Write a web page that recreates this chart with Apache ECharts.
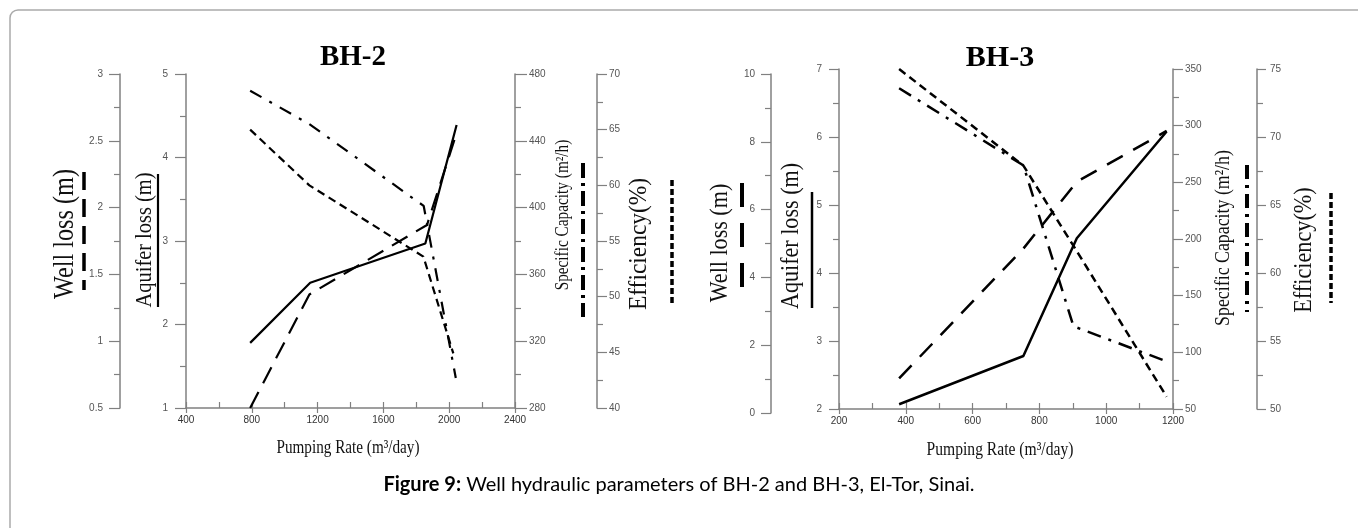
<!DOCTYPE html>
<html>
<head>
<meta charset="utf-8">
<script src="https://cdn.jsdelivr.net/npm/echarts@6/dist/echarts.min.js"></script>
<style>
  html, body { margin: 0; padding: 0; background: #fff; }
  #chart { width: 1358px; height: 528px; }
</style>
</head>
<body>
<div id="chart"></div>
<script>
// BH-2 well tests: pumping rate (m3/day) against each parameter
const bh2AquiferRate = [790, 1155, 1855, 2045];
const bh2AquiferLoss = [1.78, 2.5, 2.97, 4.39];
const bh2WellRate = [790, 1150, 1865, 2035];
const bh2WellLoss = [0.5, 1.35, 1.87, 2.52];
const bh2CapacityRate = [790, 1150, 1845, 2040];
const bh2Capacity = [470, 450, 401, 298];
const bh2EfficiencyRate = [790, 1150, 1843, 2025];
const bh2Efficiency = [65, 60, 53.6, 44.9];

// BH-3 well tests
const bh3AquiferRate = [380, 752, 912, 1181];
const bh3AquiferLoss = [2.07, 2.78, 4.51, 6.08];
const bh3WellRate = [380, 752, 912, 1181];
const bh3WellLoss = [1.02, 4.85, 6.82, 8.32];
const bh3CapacityRate = [380, 752, 902, 1181];
const bh3Capacity = [333, 265, 123, 92];
const bh3EfficiencyRate = [380, 752, 912, 1181];
const bh3Efficiency = [75, 67.9, 61.6, 50.9];

const pairs = (xs, ys) => xs.map((x, i) => [x, ys[i]]);
const plain = v => String(v);

const SERIF = '"Liberation Serif", "DejaVu Serif", serif';
const SANS = '"Liberation Sans", Arial, sans-serif';
const AXIS_GREY = '#808080';

function yAxis(gridIndex, position, offset, min, max, interval, margin, tickLen) {
  return {
    type: 'value', gridIndex, position, offset, min, max, interval,
    axisLine: { show: true, onZero: false, lineStyle: { color: AXIS_GREY, width: 1.5 } },
    axisTick: { show: true, length: tickLen, lineStyle: { color: AXIS_GREY, width: 1.2 } },
    minorTick: { show: true, splitNumber: 2, length: 6, lineStyle: { color: AXIS_GREY, width: 1.2 } },
    axisLabel: { margin, color: '#555', fontSize: 10, fontFamily: SANS, formatter: plain },
    splitLine: { show: false }
  };
}

function xAxis(gridIndex, min, max, interval) {
  return {
    type: 'value', gridIndex, position: 'bottom', min, max, interval,
    axisLine: { show: true, onZero: false, lineStyle: { color: AXIS_GREY, width: 1.5 } },
    axisTick: { show: true, length: 5, lineStyle: { color: AXIS_GREY, width: 1.2 } },
    axisLabel: { margin: 7, color: '#333', fontSize: 10, fontFamily: SANS, formatter: plain },
    splitLine: { show: false }
  };
}

// second axis on the same scale carrying the inward ticks
function innerTicks(gridIndex, min, max, interval) {
  return {
    type: 'value', gridIndex, position: 'bottom', min, max, interval,
    axisLine: { show: false, onZero: false },
    axisTick: { show: true, inside: true, length: 6, lineStyle: { color: AXIS_GREY, width: 1.2 } },
    axisLabel: { show: false },
    splitLine: { show: false }
  };
}

function line(name, xi, yi, data, type, width) {
  return {
    name, type: 'line', xAxisIndex: xi, yAxisIndex: yi, data,
    symbol: 'none', silent: true,
    lineStyle: { color: '#000', width, type, cap: 'butt' }
  };
}

// condensed serif caption text; rotated ones read bottom to top
function serifText(text, x, y, size, squeeze, rotated) {
  return {
    type: 'text', x, y, rotation: rotated ? Math.PI / 2 : 0, scaleX: squeeze,
    style: { text, fontFamily: SERIF, fontSize: size, fill: '#111', textAlign: 'center', textVerticalAlign: 'middle' }
  };
}

function keyLine(x, y1, y2, width, dash) {
  return {
    type: 'line',
    shape: { x1: x, y1, x2: x, y2 },
    style: { stroke: '#000', lineWidth: width, lineDash: dash, lineCap: 'butt' }
  };
}

const option = {
  animation: false,
  backgroundColor: '#fff',
  grid: [
    { left: 186, top: 74, width: 329, height: 334 },
    { left: 839, top: 69, width: 334, height: 340 },
    { left: 839, top: 74, width: 334, height: 339 }
  ],
  xAxis: [
    xAxis(0, 400, 2400, 400),
    innerTicks(0, 400, 2400, 200),
    xAxis(1, 200, 1200, 200),
    innerTicks(1, 200, 1200, 100),
    { type: 'value', gridIndex: 2, min: 200, max: 1200, show: false }
  ],
  yAxis: [
    yAxis(0, 'left', 0, 1, 5, 1, 18, 11),          // 0 BH-2 aquifer loss
    yAxis(0, 'left', 66, 0.5, 3, 0.5, 17, 11),     // 1 BH-2 well loss
    yAxis(0, 'right', 0, 280, 480, 40, 14, 12),    // 2 BH-2 specific capacity
    yAxis(0, 'right', 82, 40, 70, 5, 12, 10),      // 3 BH-2 efficiency
    yAxis(1, 'left', 0, 2, 7, 1, 17, 10),          // 4 BH-3 aquifer loss
    yAxis(1, 'right', 0, 50, 350, 50, 12, 10),     // 5 BH-3 specific capacity
    yAxis(1, 'right', 84, 50, 75, 5, 13, 9),       // 6 BH-3 efficiency
    yAxis(2, 'left', 68, 0, 10, 2, 16, 10)         // 7 BH-3 well loss
  ],
  series: [
    line('BH-2 Aquifer loss', 0, 0, pairs(bh2AquiferRate, bh2AquiferLoss), 'solid', 2.2),
    line('BH-2 Well loss', 0, 1, pairs(bh2WellRate, bh2WellLoss), [18, 10], 2.2),
    line('BH-2 Specific Capacity', 0, 2, pairs(bh2CapacityRate, bh2Capacity), [13, 9, 3, 9], 2.2),
    line('BH-2 Efficiency', 0, 3, pairs(bh2EfficiencyRate, bh2Efficiency), [8, 5], 2.2),
    line('BH-3 Aquifer loss', 2, 4, pairs(bh3AquiferRate, bh3AquiferLoss), 'solid', 2.5),
    line('BH-3 Well loss', 4, 7, pairs(bh3WellRate, bh3WellLoss), [18, 12], 2.5),
    line('BH-3 Specific Capacity', 2, 5, pairs(bh3CapacityRate, bh3Capacity), [14, 8, 3, 8], 2.5),
    line('BH-3 Efficiency', 2, 6, pairs(bh3EfficiencyRate, bh3Efficiency), [8, 5], 2.5)
  ],
  graphic: [
    // frame
    { type: 'rect', shape: { x: 10, y: 10, width: 1500, height: 700, r: 8 },
      style: { fill: 'none', stroke: '#aaa', lineWidth: 1.5 } },
    // panel titles
    { type: 'text', x: 353, y: 58,
      style: { text: 'BH-2', fontFamily: SERIF, fontWeight: 'bold', fontSize: 29, fill: '#000', textAlign: 'center', textVerticalAlign: 'middle' } },
    { type: 'text', x: 1000, y: 58,
      style: { text: 'BH-3', fontFamily: SERIF, fontWeight: 'bold', fontSize: 30, fill: '#000', textAlign: 'center', textVerticalAlign: 'middle' } },
    // x axis titles
    serifText('Pumping Rate (m³/day)', 348, 448, 19, 0.8, false),
    serifText('Pumping Rate (m³/day)', 1000, 450, 19.5, 0.8, false),
    // BH-2 axis titles with line keys
    serifText('Well loss (m)', 66, 234, 28.5, 0.85, true),
    keyLine(84, 172, 290, 3.5, [18, 9]),
    serifText('Aquifer loss (m)', 145, 240, 24, 0.85, true),
    keyLine(158, 174, 307, 2.2, null),
    serifText('Specific Capacity (m²/h)', 563, 215, 18, 0.85, true),
    keyLine(583, 163, 317, 4, [15, 5, 3, 5]),
    serifText('Efficiency(%)', 639, 244, 26, 0.9, true),
    keyLine(672, 180, 305, 3.5, [6, 3]),
    // BH-3 axis titles with line keys
    serifText('Well loss (m)', 720, 243, 26, 0.85, true),
    keyLine(742, 183, 300, 4, [24, 16]),
    serifText('Aquifer loss (m)', 791, 236, 26, 0.85, true),
    keyLine(812, 192, 308, 2.5, null),
    serifText('Specific Capacity (m²/h)', 1223, 238, 21, 0.85, true),
    keyLine(1247, 165, 312, 4, [14, 6, 3, 6]),
    serifText('Efficiency(%)', 1305, 250, 24.7, 0.9, true),
    keyLine(1331, 193, 303, 3.5, [6, 3]),
    // caption
    { type: 'text', x: 679, y: 485,
      style: {
        text: '{b|Figure 9:} Well hydraulic parameters of BH-2 and BH-3, El-Tor, Sinai.',
        rich: { b: { fontWeight: 'bold', fontFamily: 'Lato, "Noto Sans", sans-serif', fontSize: 20, fill: '#000' } },
        fontFamily: 'Lato, "Noto Sans", sans-serif', fontSize: 20, fill: '#000',
        textAlign: 'center', textVerticalAlign: 'middle'
      } }
  ]
};

const chart = echarts.init(document.getElementById('chart'), null, { renderer: 'canvas' });
chart.setOption(option);
</script>
</body>
</html>
